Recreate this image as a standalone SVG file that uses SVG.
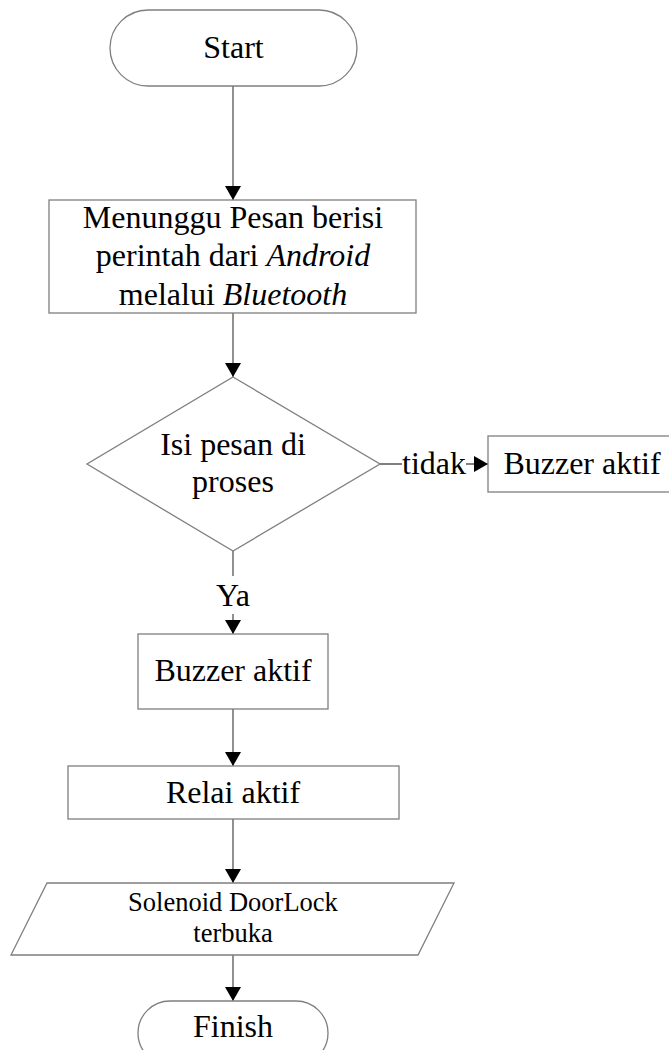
<svg xmlns="http://www.w3.org/2000/svg" width="669" height="1050" viewBox="0 0 669 1050">
<style>
.s{fill:#fff;stroke:#7f7f7f;stroke-width:1.3}
.t{font-family:"Liberation Serif","Times New Roman",serif;font-size:32px;fill:#000;text-anchor:middle}
.c{stroke:#555;stroke-width:1.3;fill:none}
</style>
<defs>
<marker id="a" viewBox="0 0 14 16" refX="14" refY="8" markerWidth="14" markerHeight="16" markerUnits="userSpaceOnUse" orient="auto">
<path d="M0,0L14,8L0,16z" fill="#000"/>
</marker>
</defs>
<rect width="669" height="1050" fill="#fff"/>
<g id="connectors">
<line class="c" x1="233" y1="86" x2="233" y2="200" marker-end="url(#a)"/>
<line class="c" x1="233" y1="313" x2="233" y2="377" marker-end="url(#a)"/>
<line class="c" x1="380" y1="464" x2="488" y2="464" marker-end="url(#a)"/>
<line class="c" x1="233" y1="551" x2="233" y2="634" marker-end="url(#a)"/>
<line class="c" x1="233" y1="709" x2="233" y2="766" marker-end="url(#a)"/>
<line class="c" x1="233" y1="819" x2="233" y2="883" marker-end="url(#a)"/>
<line class="c" x1="233" y1="955" x2="233" y2="1001" marker-end="url(#a)"/>
<rect x="402" y="448" width="64" height="30" fill="#fff"/>
<text class="t" x="434" y="474">tidak</text>
<rect x="214" y="576" width="38" height="38" fill="#fff"/>
<text class="t" x="233" y="606">Ya</text>
</g>
<g id="start">
<rect class="s" x="110" y="10" width="247" height="76" rx="38"/>
<text class="t" x="233.5" y="58">Start</text>
</g>
<g id="menunggu">
<rect class="s" x="49" y="200" width="367" height="113"/>
<text class="t" x="233" y="228">Menunggu Pesan berisi</text>
<text class="t" x="233" y="266">perintah dari <tspan font-style="italic">Android</tspan></text>
<text class="t" x="233" y="305">melalui <tspan font-style="italic">Bluetooth</tspan></text>
</g>
<g id="decision">
<polygon class="s" points="233,377 380,464 233,551 87,464"/>
<text class="t" x="233" y="455">Isi pesan di</text>
<text class="t" x="233" y="492">proses</text>
</g>
<g id="buzzer-tidak">
<rect class="s" x="488" y="436" width="190" height="56"/>
<text class="t" x="582" y="474">Buzzer aktif</text>
</g>
<g id="buzzer">
<rect class="s" x="138" y="634" width="190" height="75"/>
<text class="t" x="233" y="681">Buzzer aktif</text>
</g>
<g id="relai">
<rect class="s" x="68" y="766" width="331" height="53"/>
<text class="t" x="233" y="803">Relai aktif</text>
</g>
<g id="solenoid">
<polygon class="s" points="47,883 454,883 418,955 11,955"/>
<text class="t" x="233" y="911" style="font-size:26.5px">Solenoid DoorLock</text>
<text class="t" x="233" y="942" style="font-size:26.5px">terbuka</text>
</g>
<g id="finish">
<rect class="s" x="138" y="1001" width="190" height="64" rx="32"/>
<text class="t" x="233" y="1037">Finish</text>
</g>
</svg>
